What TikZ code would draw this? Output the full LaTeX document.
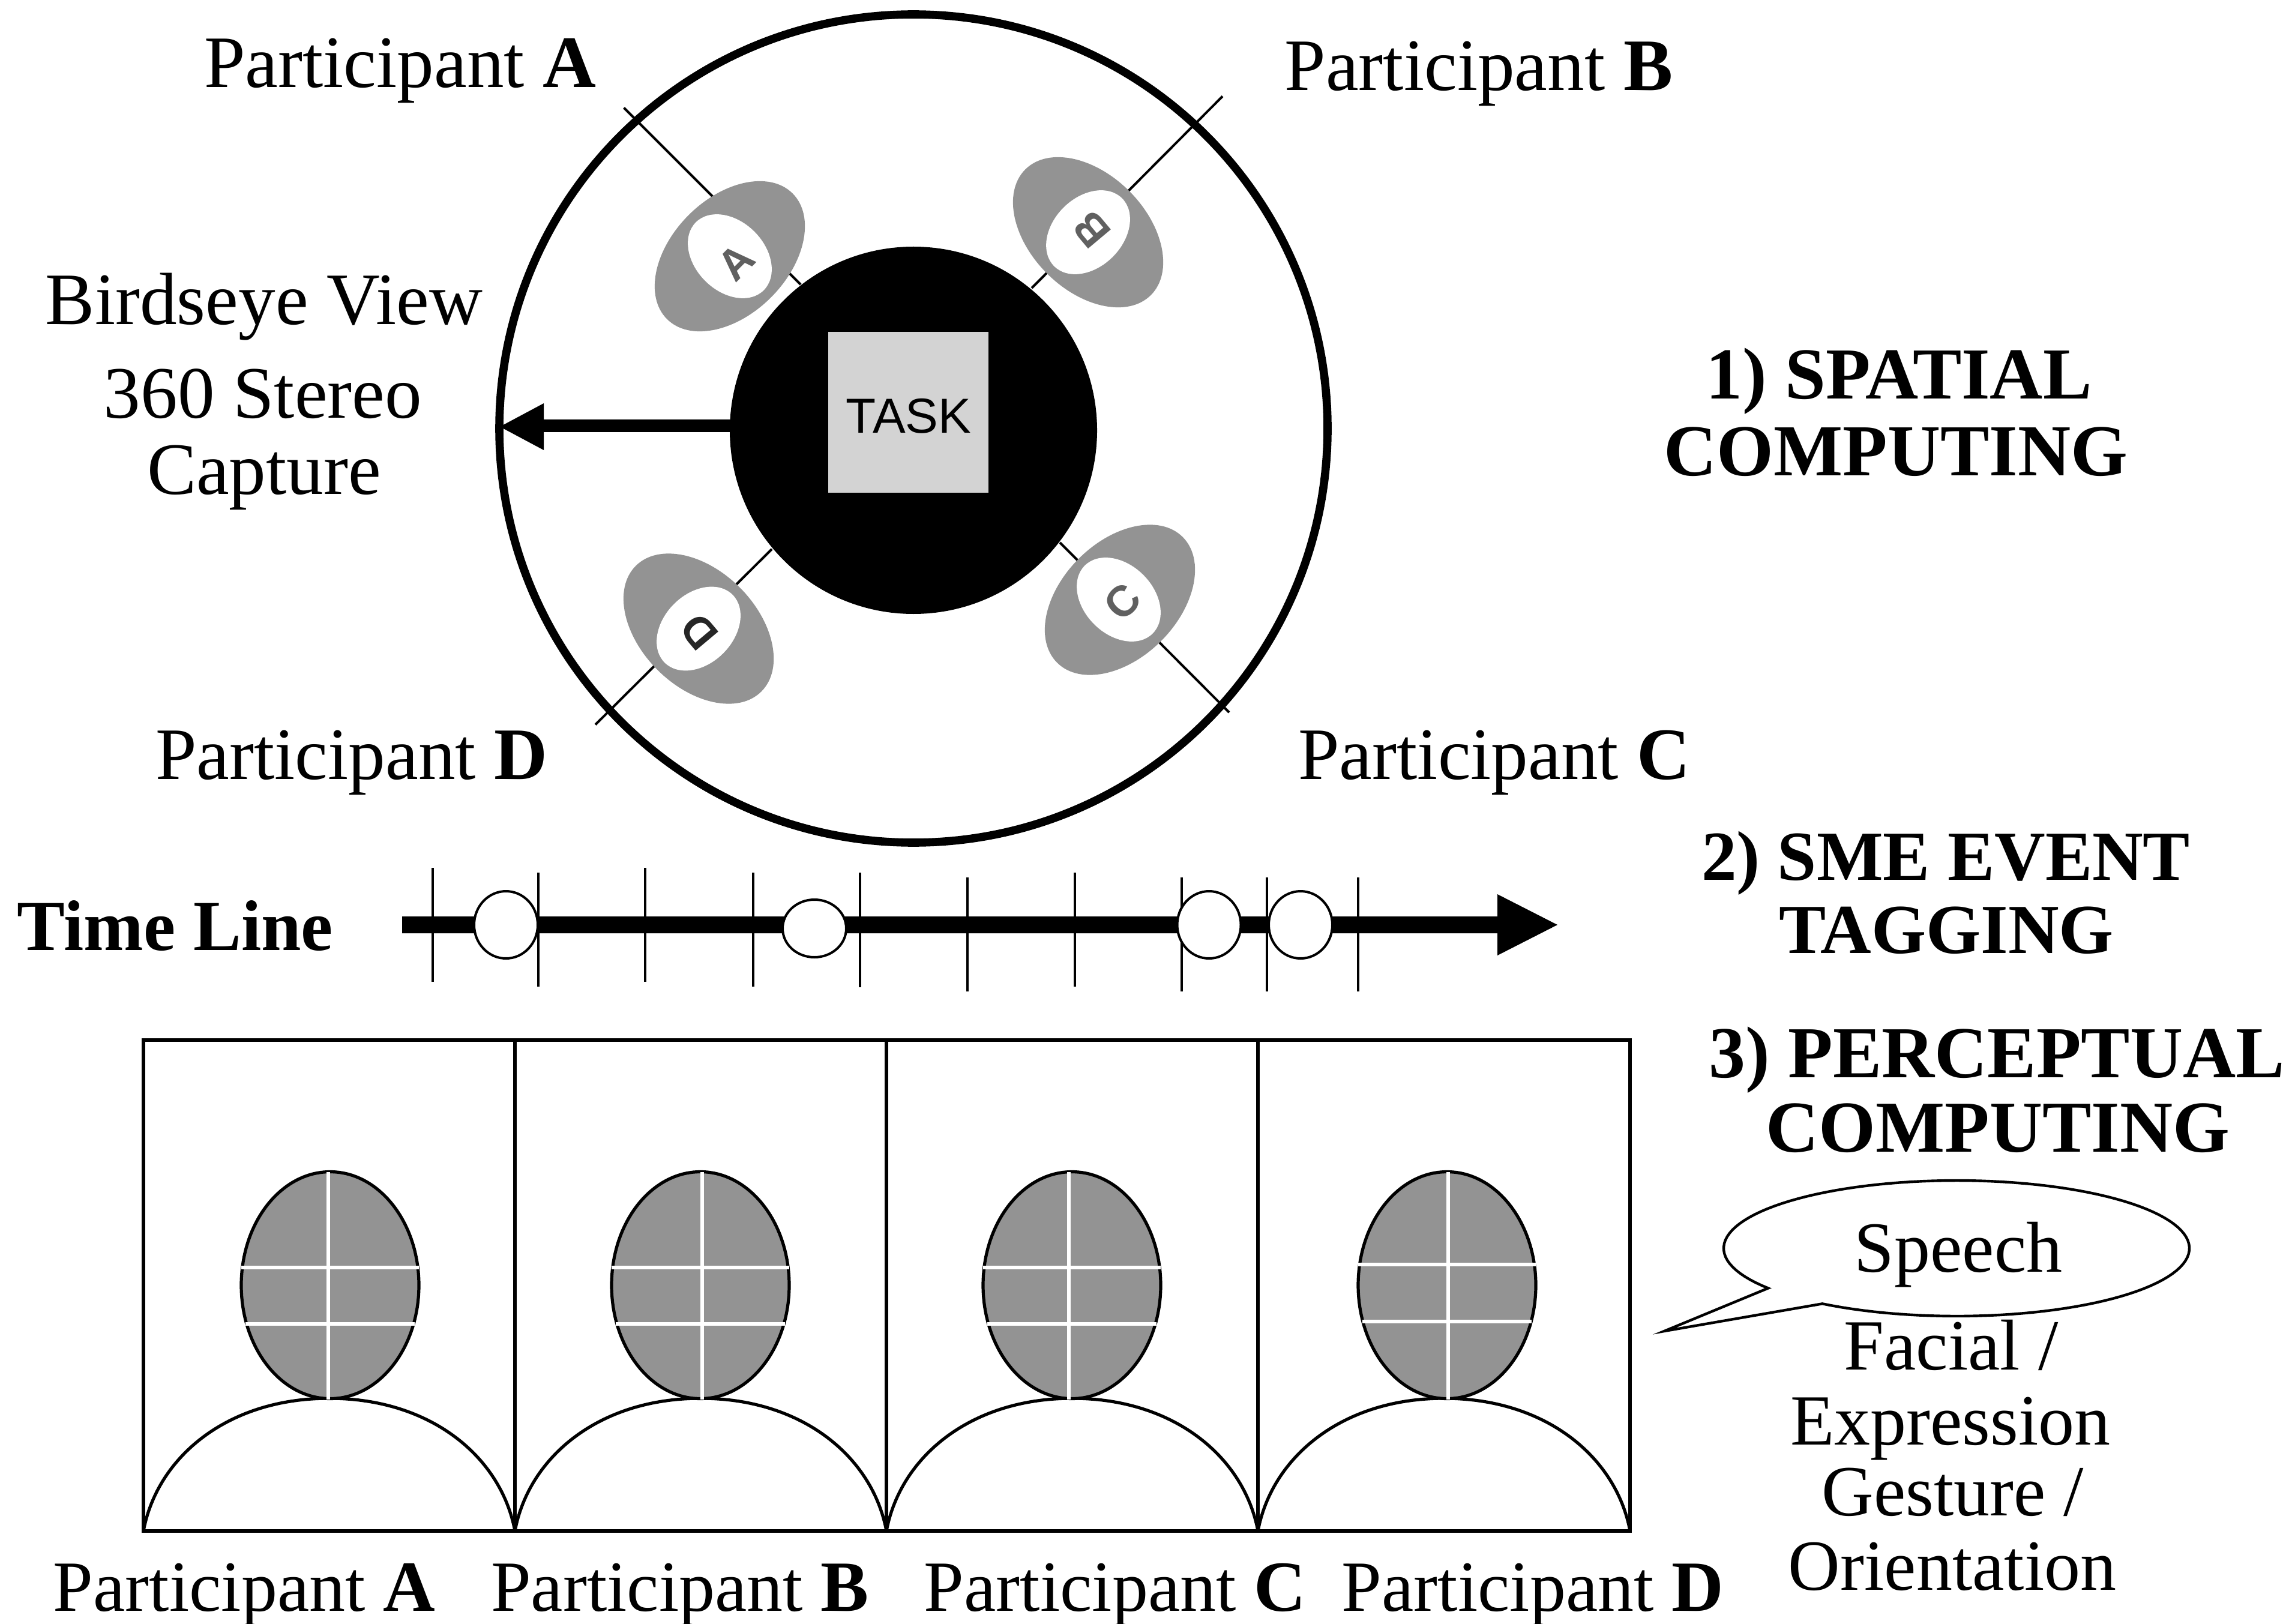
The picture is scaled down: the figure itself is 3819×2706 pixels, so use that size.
\documentclass[tikz,border=0pt]{standalone}
\usepackage{fontspec}
\usetikzlibrary{shapes.geometric}
\setmainfont{Liberation Serif}
\newfontfamily\helv{Liberation Sans}
\definecolor{bodygray}{HTML}{939393}
\definecolor{taskgray}{HTML}{D3D3D3}
\definecolor{lettergray}{HTML}{606060}
\tikzset{
  lbl/.style={anchor=base,inner sep=0pt,font=\fontsize{30}{36}\selectfont},
  toplbl/.style={anchor=base,inner sep=0pt,font=\fontsize{30.8}{36}\selectfont},
  hdr/.style={anchor=base,inner sep=0pt,font=\fontsize{30.5}{36}\selectfont\bfseries},
  hdrsmall/.style={anchor=base,inner sep=0pt,font=\fontsize{29.3}{36}\selectfont\bfseries},
  thin rule/.style={line width=1pt,black},
  torso/.style={ellipse,inner sep=0pt,minimum width=74pt,minimum height=48.5pt,fill=bodygray},
  headwhite/.style={ellipse,inner sep=0pt,minimum width=40pt,minimum height=29pt,fill=white},
  seatmark/.style={inner sep=0pt,font=\fontsize{18}{18}\selectfont\helv\bfseries},
  eventmark/.style={ellipse,inner sep=0pt,draw=black,line width=1pt,fill=white,minimum width=26.5pt,minimum height=28pt},
  face/.style={ellipse,inner sep=0pt,draw=black,line width=1.3pt,fill=bodygray,minimum width=74pt,minimum height=94.5pt},
  crossline/.style={white,line width=1.5pt},
}
\begin{document}
\begin{tikzpicture}[x=0.25pt,y=-0.25pt]
\useasboundingbox[fill=white] (0,0) rectangle (3819,2706);
% birdseye view
\node[circle,inner sep=0pt,draw=black,line width=3.4pt,minimum size=345pt] (outer) at (1522,714) {};
\coordinate (aout) at (1039.5,179.5); \coordinate (ain) at (1334,474);
\coordinate (bout) at (2037,160.5);   \coordinate (bin) at (1719,480);
\coordinate (cout) at (2048,1187);    \coordinate (cin) at (1766,904);
\coordinate (dout) at (992,1207.5);   \coordinate (din) at (1286,915);
\draw[thin rule] (aout) -- (ain);
\draw[thin rule] (bout) -- (bin);
\draw[thin rule] (cout) -- (cin);
\draw[thin rule] (dout) -- (din);
\node[circle,inner sep=0pt,fill=black,minimum size=153pt] (table) at (1522,717) {};
\node[inner sep=0pt,fill=taskgray,minimum size=66.75pt] (taskbox) at (1513.5,687) {};
\node[inner sep=0pt,font=\fontsize{20.5}{20}\selectfont\helv] (tasklabel) at (1514,693) {TASK};
% seats
\node[torso,rotate=45]  (seata) at (1216,427) {};
\node[headwhite,rotate=-45] (heada) at (1216,427) {};
\node[seatmark,rotate=45,text=lettergray] (marka) at (1226,437) {A};
\node[torso,rotate=-45] (seatb) at (1813,387) {};
\node[headwhite,rotate=45] (headb) at (1813,387) {};
\node[seatmark,rotate=130,text=lettergray] (markb) at (1819,383) {B};
\node[torso,rotate=45]  (seatc) at (1866,999.5) {};
\node[headwhite,rotate=-45] (headc) at (1864,999) {};
\node[seatmark,rotate=45,text=lettergray] (markc) at (1870,1003) {C};
\node[torso,rotate=-45] (seatd) at (1164,1047.5) {};
\node[headwhite,rotate=45] (headd) at (1164,1047.5) {};
\node[seatmark,rotate=130,text=black!85] (markd) at (1165,1053) {D};
% capture arrow
\coordinate (captip) at (833,711);
\fill[black] (1220,699) -- (906,699) -- (906,672) -- (captip) -- (906,750) -- (906,720) -- (1220,720) -- cycle;
% top labels
\node[toplbl] (pa) at (667,146) {Participant \textbf{A}};
\node[toplbl] (pb) at (2464,151) {Participant \textbf{B}};
\node[toplbl] (pd) at (586,1298) {Participant \textbf{D}};
\node[toplbl] (pc) at (2490,1298) {Participant \textbf{C}};
\node[toplbl] (bv) at (440,541) {Birdseye View};
\node[toplbl] (st) at (438,697) {360 Stereo};
\node[toplbl] (cp) at (440,823) {Capture};
\node[hdr] (h1a) at (3164,665) {1) SPATIAL};
\node[hdr] (h1b) at (3159,792) {COMPUTING};
\node[hdrsmall] (h2a) at (3242,1466) {2) SME EVENT};
\node[hdrsmall] (h2b) at (3243,1588) {TAGGING};
\node[hdr] (h3a) at (3327,1795) {3) PERCEPTUAL};
\node[hdr] (h3b) at (3329,1919) {COMPUTING};
% time line
\node[hdrsmall,font=\fontsize{29.9}{36}\selectfont\bfseries] (tl) at (292,1583) {Time Line};
\fill[black] (670,1527) -- (2495,1527) -- (2495,1490) -- (2595,1541) -- (2495,1592) -- (2495,1555) -- (670,1555) -- cycle;
\foreach \x/\a/\b in {720.5/1446/1636,897/1454/1644,1075/1446/1636,1255/1454/1644,1433/1454/1645,1612/1462/1652,1790.6/1454/1644,1969/1462/1652,2111/1462/1652,2263/1462/1652}
  \draw[black,line width=1pt] (\x,\a) -- (\x,\b);
\node[eventmark] (ev1) at (843,1541) {};
\node[eventmark,minimum height=24pt] (ev2) at (1357,1547) {};
\node[eventmark] (ev3) at (2014.5,1541) {};
\node[eventmark] (ev4) at (2167,1541) {};
% panels
\draw[black,line width=1.4pt,line join=miter] (239,1733) rectangle (2716,2551);
\foreach \x in {858,1477,2096} \draw[black,line width=1.4pt] (\x,1733) -- (\x,2551);
\foreach \n/\l/\r/\c/\v/\ha/\hb in {1/239/858/550/547/2112/2206,2/858/1477/1167/1170/2112/2206,3/1477/2096/1786/1781/2112/2206,4/2096/2716/2411/2413/2106.5/2202}{
  \pgfmathsetmacro{\mid}{(\l+\r)/2}
  \draw[black,line width=1.3pt] (\l,2551) .. controls (\l+23,2428) and (\mid-170,2330) .. (\mid,2330)
     .. controls (\mid+170,2330) and (\r-23,2428) .. (\r,2551);
  \node[face] (face\n) at (\c,2141.5) {};
  \draw[crossline] (\v,1953) -- (\v,2332);
  \draw[crossline] (\c-148,\ha) -- (\c+148,\ha);
  \draw[crossline] (\c-141,\hb) -- (\c+141,\hb);
}
\node[lbl] (qa) at (407,2684) {Participant \textbf{A}};
\node[lbl] (qb) at (1133,2684) {Participant \textbf{B}};
\node[lbl] (qc) at (1858,2684) {Participant \textbf{C}};
\node[lbl] (qd) at (2554,2684) {Participant \textbf{D}};
% speech bubble
\coordinate (tailtip) at (2773,2218);
\draw[black,line width=1.1pt,fill=white,line join=miter] (tailtip) -- plot[domain=-216:125.2,samples=120] ({3260+388*cos(\x)},{2080+113*sin(\x)}) -- cycle;
\node[lbl] (sp) at (3263,2119) {Speech};
\node[lbl] (m1) at (3251,2282) {Facial /};
\node[lbl] (m2) at (3250,2407) {Expression};
\node[lbl] (m3) at (3254,2525) {Gesture /};
\node[lbl] (m4) at (3253,2649) {Orientation};
\end{tikzpicture}
\end{document}
